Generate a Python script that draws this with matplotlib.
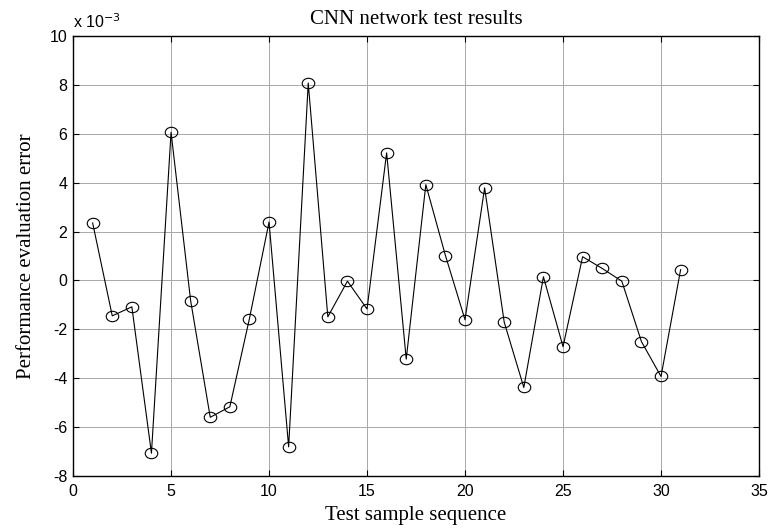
import numpy as np
import matplotlib
matplotlib.use("Agg")
import matplotlib.pyplot as plt
from matplotlib.path import Path

plt.rcParams['axes.unicode_minus'] = False

seq = np.arange(1, 32)
err = np.array([2.35, -1.45, -1.08, -7.07, 6.06, -0.83, -5.6, -5.17, -1.56, 2.39,
                -6.81, 8.08, -1.49, -0.03, -1.17, 5.22, -3.22, 3.92, 1.02, -1.61,
                3.79, -1.71, -4.38, 0.15, -2.71, 0.97, 0.49, -0.03, -2.50, -3.93,
                0.44]) * 1e-3

xticks = [0, 5, 10, 15, 20, 25, 30, 35]
yticks = [-8, -6, -4, -2, 0, 2, 4, 6, 8, 10]

# slightly flattened circle, like the stretched matlab export
circ = Path.unit_circle()
ell = Path(circ.vertices * [1.2, 1.0], circ.codes)

fig = plt.figure(figsize=(7.69, 5.30), dpi=100)
ax = fig.add_axes([0.095, 0.102, 0.892, 0.83])

ax.plot(seq, err * 1e3, color='black', lw=0.8, marker=ell, markersize=9,
        mfc='none', mec='black', mew=0.8)

ax.set_xlim(0, 35)
ax.set_ylim(-8, 10)
ax.set_xticks(xticks)
ax.set_yticks(yticks)
ax.grid(True, color='#a8a8a8', lw=0.7, ls='-')
ax.tick_params(direction='in', top=True, right=True, length=4, width=0.8,
               labelsize=11.5)
ax.tick_params(axis='x', pad=6)
ax.tick_params(axis='y', pad=4)
for lab in ax.get_xticklabels() + ax.get_yticklabels():
    lab.set_family('Liberation Sans')
for s in ax.spines.values():
    s.set_linewidth(1.0)

ax.text(0, 1.018, r'x 10$^{-3}$', transform=ax.transAxes, fontsize=11.5,
        family='Liberation Sans', ha='left', va='baseline')

ax.set_title('CNN network test results', family='Liberation Serif', fontsize=15, pad=9)
ax.set_xlabel('Test sample sequence', family='Liberation Serif', fontsize=15, labelpad=5)
ax.set_ylabel('Performance evaluation error', family='Liberation Serif', fontsize=15, labelpad=10)

fig.savefig('out.png', dpi=100)
